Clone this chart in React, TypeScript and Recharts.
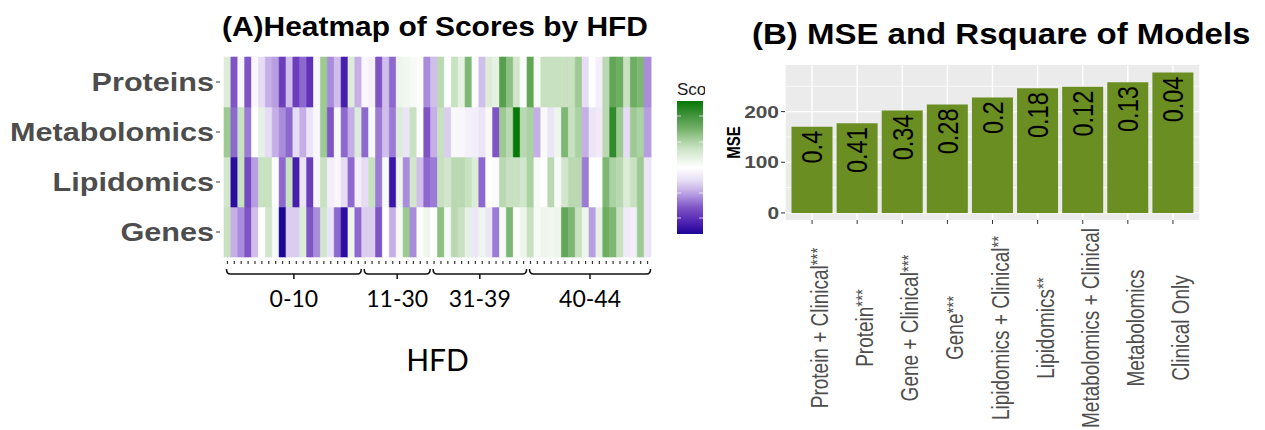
import React from 'react';
import { BarChart, Bar, Cell, XAxis, YAxis, CartesianGrid, LabelList } from 'recharts';

// ---------- (A) heatmap: score per HFD sample (green = high, purple = low) ----------
const heatRows = ['Genes', 'Lipidomics', 'Metabolomics', 'Proteins']; // bottom to top

const proteins = [
  0.2, -0.6, -0.05, -0.6, -0.05, -0.2, -0.35, -0.4, -0.7, -0.3, -0.7, -0.55, -0.75, -0.05, 0.45, -0.45,
  -0.3, -0.85, 0.2, -0.35, -0.05, -0.08, -0.6, -0.3, -0.55, 0.1, 0.08, 0.05, 0.02, -0.45, -0.3,
  0.35, 0, 0.3, 0.15, 0.55, 0.02, -0.3, 0.2, 0.15, 0.7, 0.5, 0.25, 0.02, 0.65, 0.05, 0.3,
  0.3, 0.3, 0.3, 0.3, 0.45, -0.2, 0, -0.1, 0.35, 0.65, 0.6, 0.3, 0.6, 0.55, -0.45,
];
const metabolomics = [
  0.45, -0.55, 0.3, -0.5, 0, 0.15, -0.2, -0.35, -0.45, -0.55, -0.2, -0.35, -0.15, -0.05, 0.45, -0.6,
  0.05, -0.55, -0.35, 0.2, -0.55, 0.05, -0.5, -0.3, -0.5, 0.2, -0.15, 0.3, 0, -0.6, -0.35,
  0.3, -0.25, 0.05, -0.05, -0.08, -0.1, -0.15, 0.05, -0.6, 0.45, 0.35, 1.0, 0.35, 0.4, -0.35, 0.05,
  -0.15, 0.1, 0.55, 0.3, 0.4, -0.35, -0.15, -0.12, 0.35, 0.85, 0.45, -0.2, 0.45, 0.4, -0.4,
];
const lipidomics = [
  0.25, -0.95, 0.3, -0.65, -0.4, 0.3, 0.3, 0, -0.55, 0.3, -0.85, -0.15, -0.7, -0.05, 0.3, -0.1,
  -0.05, -0.2, -0.55, -0.1, -0.2, 0.3, -0.5, 0.05, -0.9, 0.1, -0.45, 0.25, -0.3, -0.55, -0.5,
  0.3, 0.25, 0.35, 0.35, 0.3, 0.2, -0.55, 0, -0.03, 0.35, 0.3, 0.3, 0.25, 0.4, 0.05, 0,
  0.35, 0.05, 0.25, 0.35, 0.35, -0.5, 0, 0, 0.55, 0.4, 0.35, 0.2, 0.3, 0.45, -0.15,
];
const genes = [
  0.3, -0.35, -0.45, -0.6, -0.3, 0, 0.25, 0.05, -1.0, -0.25, -0.25, 0.2, -0.6, -0.45, 0.25, -0.15,
  -0.55, -0.95, 0.1, -0.55, -0.25, -0.25, -0.6, 0, -0.35, 0.05, 0.45, -0.45, 0, 0.1, 0,
  0.5, 0.05, 0.35, 0.3, 0.15, -0.15, 0.1, -0.15, -0.5, 0.05, 0.55, 0.02, 0.1, 0.3, 0.05, 0.1,
  0.08, 0.1, 0.65, 0.55, 0.3, 0.1, -0.4, 0.15, 0.6, 0.55, 0.3, -0.12, -0.1, 0.45, -0.15,
];

const hfdGroups = ['0-10', '11-30', '31-39', '40-44'];
const hfdGroupSizes = [20, 10, 14, 18];

// ---------- (B) model comparison ----------
const models = [
  'Protein + Clinical', 'Protein', 'Gene + Clinical', 'Gene', 'Lipidomics + Clinical',
  'Lipidomics', 'Metabolomics + Clinical', 'Metabolomics', 'Clinical Only',
];
const modelStars = ['***', '***', '***', '***', '**', '**', '', '', ''];
const mse = [170, 177, 202, 214, 228, 246, 249, 258, 277];
const rsquare = ['0.4', '0.41', '0.34', '0.28', '0.2', '0.18', '0.12', '0.13', '0.04'];

const FONT = '"Liberation Sans", Arial, sans-serif';
const SX = 1.23; // source figure is stretched horizontally

// colour scale
const greenStops: [number, string][] = [
  [0, '#ffffff'], [0.15, '#e6f1e3'], [0.3, '#c8e1c1'], [0.45, '#9dca93'],
  [0.6, '#6eae63'], [0.75, '#4a9743'], [1, '#067806'],
];
const purpleStops: [number, string][] = [
  [0, '#ffffff'], [0.2, '#e6dcf5'], [0.35, '#c5afe6'], [0.5, '#9b7bd6'],
  [0.6, '#7f55c5'], [0.75, '#5f33b8'], [0.9, '#3a14a8'], [1, '#1b0597'],
];
const hexRgb = (h: string) => [1, 3, 5].map((i) => parseInt(h.slice(i, i + 2), 16));
const scoreColor = (v: number) => {
  const stops = v >= 0 ? greenStops : purpleStops;
  const a = Math.min(Math.abs(v), 1);
  let k = 1;
  while (k < stops.length - 1 && stops[k][0] < a) k++;
  const [a0, c0] = stops[k - 1];
  const [a1, c1] = stops[k];
  const t = (a - a0) / (a1 - a0);
  const p = hexRgb(c0);
  const q = hexRgb(c1);
  return `rgb(${p.map((c, i) => Math.round(c + (q[i] - c) * t)).join(',')})`;
};

const rowScores: Record<string, number[]> = {
  Genes: genes,
  Lipidomics: lipidomics,
  Metabolomics: metabolomics,
  Proteins: proteins,
};
const heatData = proteins.map((_, i) => ({ col: i, Genes: 1, Lipidomics: 1, Metabolomics: 1, Proteins: 1 }));

// layout of panel A
const A_W = 660;
const A_YW = 224;
const A_RIGHT = 9;
const band = (A_W - A_YW - A_RIGHT) / proteins.length;

const groupStart = hfdGroupSizes.map((_, g) => hfdGroupSizes.slice(0, g).reduce((s, n) => s + n, 0));

const RowTick = (p: any) => (
  <g>
    <line x1={p.x - 8} x2={p.x - 4} y1={p.y} y2={p.y} stroke="#333" strokeWidth={1} />
    <text
      transform={`translate(${p.x - 10},${p.y}) scale(1.2,1)`}
      textAnchor="end"
      dy="0.36em"
      fontSize={25.5}
      fontWeight="bold"
      fontFamily={FONT}
      fill="#4d4d4d"
    >
      {heatRows[Math.floor(p.payload.value)]}
    </text>
  </g>
);

const SmallTick = (p: any) => <line x1={p.x} x2={p.x} y1={p.y + 4} y2={p.y + 7} stroke="#333" strokeWidth={1.2} />;

const BracketTick = (p: any) => {
  const g = groupStart.indexOf(p.index);
  if (g < 0) return <g />;
  const x0 = p.x - 1;
  const x1 = p.x + (hfdGroupSizes[g] - 1) * band + 3;
  const xc = (x0 + x1) / 2;
  const y = p.y;
  return (
    <g>
      <path
        d={`M${x0},${y + 2} Q${x0},${y + 7} ${x0 + 4},${y + 7} L${x1 - 4},${y + 7} Q${x1},${y + 7} ${x1},${y + 2} M${xc},${y + 7} L${xc},${y + 12}`}
        fill="none"
        stroke="#111"
        strokeWidth={1.5}
      />
      <text x={xc} y={y + 40} textAnchor="middle" fontSize={23} fontFamily="Lato, sans-serif" fill="#000">
        {hfdGroups[g]}
      </text>
    </g>
  );
};

// panel B pieces
const barData = models.map((m, i) => ({ model: m, stars: modelStars[i], mse: mse[i], r2: rsquare[i] }));

const ModelTick = (p: any) => {
  const i = p.index;
  return (
    <text
      transform={`translate(${p.x + 16},${p.y + 104}) scale(${SX},1) rotate(-90)`}
      textAnchor="middle"
      fontSize={19}
      fontFamily={FONT}
      fill="#4d4d4d"
    >
      {models[i]}
      {modelStars[i] && (
        <tspan dy={-3} fontSize={15}>
          {modelStars[i]}
        </tspan>
      )}
    </text>
  );
};

const MseTick = (p: any) => (
  <text
    transform={`translate(${p.x},${p.y}) scale(${SX},1)`}
    textAnchor="end"
    dy="0.36em"
    fontSize={17}
    fontWeight="bold"
    fontFamily={FONT}
    fill="#4d4d4d"
  >
    {p.payload.value}
  </text>
);

const MseTitle = (p: any) => {
  const vb = p.viewBox || { x: 0, y: 65, width: 65, height: 155 };
  return (
    <text
      transform={`translate(${vb.x + 20},${vb.y + vb.height / 2}) scale(${SX},1) rotate(-90)`}
      textAnchor="middle"
      fontSize={15}
      fontWeight="bold"
      fontFamily={FONT}
      fill="#000"
    >
      MSE
    </text>
  );
};

const R2Label = (p: any) => (
  <text
    transform={`translate(${p.x + p.width / 2 + 10.3},${p.y + 4}) scale(${SX},1) rotate(-90)`}
    textAnchor="end"
    fontSize={23.5}
    fontFamily={FONT}
    fill="#000"
  >
    {p.value}
  </text>
);

const legendValues = Array.from({ length: 21 }, (_, i) => 1 - i / 10);

export default function App() {
  return (
    <div style={{ position: 'absolute', left: 0, top: 0, width: 1265, height: 430, background: '#fff', overflow: 'hidden' }}>
      <svg width={1265} height={430} style={{ position: 'absolute', left: 0, top: 0 }}>
        <text transform="translate(222,36) scale(1.07,1)" fontSize={28} fontWeight="bold" fontFamily={FONT} fill="#000">
          (A)Heatmap of Scores by HFD
        </text>
        <text transform="translate(752,44) scale(1.1,1)" fontSize={30} fontWeight="bold" fontFamily={FONT} fill="#000">
          (B) MSE and Rsquare of Models
        </text>
        <defs>
          <linearGradient id="scoreGrad" x1="0" y1="0" x2="0" y2="1">
            {legendValues.map((v, i) => (
              <stop key={i} offset={`${(i / (legendValues.length - 1)) * 100}%`} stopColor={scoreColor(v)} />
            ))}
          </linearGradient>
          <clipPath id="legClip">
            <rect x={660} y={60} width={45} height={200} />
          </clipPath>
        </defs>
        <g clipPath="url(#legClip)">
          <text x={677} y={95} fontSize={17} fontFamily={FONT} fill="#1a1a1a">
            Score
          </text>
          <rect x={677} y={101} width={26} height={133} fill="url(#scoreGrad)" />
          {[15, 41, 92, 117].map((d) => (
            <g key={d}>
              <line x1={677} x2={681} y1={101 + d} y2={101 + d} stroke="#fff" strokeOpacity={0.7} />
              <line x1={699} x2={703} y1={101 + d} y2={101 + d} stroke="#fff" strokeOpacity={0.7} />
            </g>
          ))}
        </g>
      </svg>

      <div style={{ position: 'absolute', left: 0, top: 0 }}>
        <BarChart
          width={A_W}
          height={430}
          data={heatData}
          margin={{ top: 53, right: A_RIGHT, bottom: 23, left: 0 }}
          barCategoryGap={0}
          barGap={0}
        >
          <XAxis dataKey="col" interval={0} height={10} axisLine={false} tickLine={false} tickSize={0} tickMargin={0} tick={SmallTick} />
          <XAxis
            xAxisId="top"
            orientation="top"
            dataKey="col"
            interval={0}
            height={4}
            axisLine={false}
            tick={false}
            tickSize={3}
            tickLine={{ stroke: '#dadada', strokeWidth: 4 }}
          />
          <XAxis
            xAxisId="grp"
            dataKey="col"
            interval={0}
            height={140}
            axisLine={false}
            tickLine={false}
            tickSize={0}
            tickMargin={0}
            tick={BracketTick}
            label={{ value: 'HFD', position: 'insideBottom', offset: 36, fontSize: 30, fontFamily: 'Lato, sans-serif', fill: '#000' }}
          />
          <YAxis
            type="number"
            domain={[0, 4]}
            ticks={[0.5, 1.5, 2.5, 3.5]}
            width={A_YW}
            axisLine={false}
            tickLine={false}
            tickSize={0}
            tickMargin={0}
            tick={RowTick}
          />
          {heatRows.map((r) => (
            <Bar key={r} dataKey={r} stackId="h" isAnimationActive={false}>
              {rowScores[r].map((v, i) => (
                <Cell key={i} fill={scoreColor(v)} stroke={scoreColor(v)} strokeWidth={0.6} />
              ))}
            </Bar>
          ))}
        </BarChart>
      </div>

      <div style={{ position: 'absolute', left: 720, top: 0 }}>
        <BarChart width={545} height={430} data={barData} margin={{ top: 65, right: 65, bottom: 0, left: 0 }}>
          <CartesianGrid fill="#ebebeb" fillOpacity={1} stroke="#ffffff" strokeWidth={0.7} horizontalValues={[50, 150, 250]} vertical={false} />
          <CartesianGrid stroke="#ffffff" strokeWidth={1.4} horizontalValues={[0, 100, 200]} />
          <XAxis
            dataKey="model"
            interval={0}
            height={210}
            padding={{ left: 4.5, right: 4.5 }}
            axisLine={false}
            tickSize={4}
            tickMargin={0}
            tickLine={{ stroke: '#333' }}
            tick={ModelTick}
          />
          <YAxis
            width={65}
            domain={[-14, 292]}
            ticks={[0, 100, 200]}
            axisLine={false}
            tickSize={4}
            tickMargin={2}
            tickLine={{ stroke: '#333' }}
            tick={MseTick}
            label={{ value: 'MSE', content: MseTitle }}
          />
          <Bar dataKey="mse" fill="#6b8e23" barSize={41} isAnimationActive={false}>
            <LabelList dataKey="r2" content={R2Label} />
          </Bar>
        </BarChart>
      </div>
    </div>
  );
}
